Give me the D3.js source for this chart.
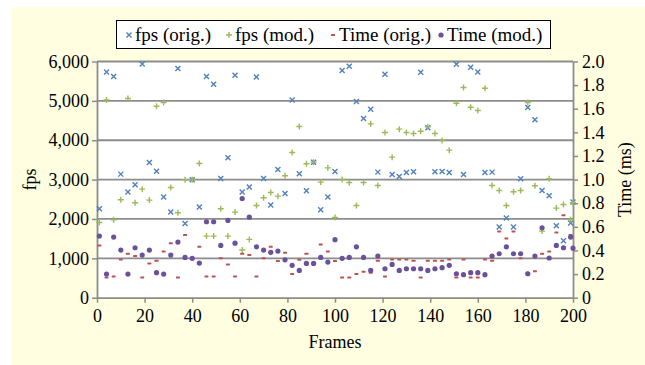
<!DOCTYPE html>
<html>
<head>
<meta charset="utf-8">
<script src="https://cdn.jsdelivr.net/npm/d3@7"></script>
<style>
  html, body { margin: 0; padding: 0; background: #ffffff; }
  svg text { font-family: "Liberation Serif", "Times New Roman", serif; fill: #000; }
</style>
</head>
<body>
<svg id="chart" width="645" height="365"></svg>
<script>
// Sampled frames (every third frame, plus the last one)
const frames = [1,4,7,10,13,16,19,22,25,28,31,34,37,40,43,46,49,52,55,58,61,64,67,70,73,76,79,82,85,88,91,94,97,100,103,106,109,112,115,118,121,124,127,130,133,136,139,142,145,148,151,154,157,160,163,166,169,172,175,178,181,184,187,190,193,196,199,200];

// Frame rate, original and modified renderer
const fpsOrig = [2259,5736,5618,3139,2682,2868,5939,3435,3215,2555,2174,5821,1887,2995,2301,5618,5423,3029,3553,5651,2682,2809,5609,3029,2352,3257,2648,5025,3147,2716,3443,2233,2555,3206,5770,5880,4983,4552,4788,3190,5677,3130,3080,3181,3198,5728,4315,3198,3206,3181,5931,3130,5854,5736,3181,3190,1794,2022,1794,3020,4831,4518,2724,2589,1827,1447,1895,2428];
const fpsMod = [1912,5025,1980,2487,5059,2411,2758,2479,4865,4958,2800,2157,2995,2995,3409,1565,1565,2259,1565,2174,1210,1481,2343,2538,2673,2580,3096,3689,4349,3401,3443,2936,3299,2039,3003,2927,2343,2927,4416,2851,4196,3570,4281,4196,4171,4230,4340,4171,3993,3748,4941,5338,4839,4755,5321,2851,2724,2343,2690,2724,4958,2843,1692,3020,2276,2369,1988,2411];

// Frame time in ms, original and modified renderer
const timeOrig = [0.443,0.172,0.180,0.324,0.372,0.353,0.172,0.290,0.313,0.392,0.460,0.172,0.530,0.333,0.431,0.180,0.180,0.333,0.282,0.180,0.372,0.361,0.180,0.333,0.431,0.310,0.381,0.200,0.321,0.372,0.290,0.451,0.392,0.310,0.172,0.172,0.200,0.220,0.212,0.313,0.180,0.324,0.324,0.324,0.313,0.172,0.313,0.313,0.313,0.324,0.172,0.324,0.172,0.172,0.324,0.313,0.561,0.502,0.561,0.333,0.212,0.223,0.372,0.392,0.553,0.699,0.530,0.409];
const timeMod = [0.522,0.200,0.513,0.403,0.200,0.423,0.361,0.403,0.212,0.200,0.361,0.471,0.341,0.333,0.293,0.643,0.643,0.443,0.654,0.462,0.840,0.682,0.431,0.403,0.384,0.395,0.321,0.274,0.231,0.290,0.290,0.341,0.302,0.491,0.333,0.341,0.431,0.341,0.231,0.353,0.245,0.282,0.231,0.245,0.245,0.245,0.231,0.245,0.254,0.274,0.203,0.195,0.212,0.212,0.195,0.353,0.372,0.431,0.372,0.372,0.203,0.353,0.592,0.336,0.443,0.423,0.513,0.420];

// Axis ticks
const frameTicks = [0,20,40,60,80,100,120,140,160,180,200];
const fpsTicks = [0,1000,2000,3000,4000,5000,6000];
const timeTicks = [0,0.2,0.4,0.6,0.8,1.0,1.2,1.4,1.6,1.8,2.0];

const legendLabels = ["fps (orig.)", "fps (mod.)", "Time (orig.)", "Time (mod.)"];
const colors = ["#4F81BD", "#9BBB59", "#C0504D", "#6A529A"];

const svg = d3.select("#chart");

// Panel background
svg.append("rect").attr("x", 12).attr("y", 7).attr("width", 633).attr("height", 358)
  .attr("fill", "#FFFEE0");

const plotLeft = 97, plotRight = 573, plotTop = 61.5, plotBottom = 297.7;
const x = d3.scaleLinear().domain([0, 200]).range([plotLeft, plotRight]);
const yFps = d3.scaleLinear().domain([0, 6000]).range([plotBottom, plotTop]);
const yTime = d3.scaleLinear().domain([0, 2]).range([plotBottom, plotTop]);

// Plot area
svg.append("rect").attr("x", plotLeft).attr("y", plotTop)
  .attr("width", plotRight - plotLeft).attr("height", plotBottom - plotTop)
  .attr("fill", "#ffffff");

const gridColor = "#8c8c8c";

// Horizontal gridlines on the fps scale
svg.append("g").selectAll("line").data(fpsTicks.filter(d => d > 0)).join("line")
  .attr("x1", plotLeft).attr("x2", plotRight)
  .attr("y1", d => yFps(d)).attr("y2", d => yFps(d))
  .attr("stroke", gridColor).attr("stroke-width", 1.8);

function styleAxis(g) {
  g.select(".domain").attr("stroke", gridColor).attr("stroke-width", 1.8);
  g.selectAll(".tick line").attr("stroke", gridColor).attr("stroke-width", 1.5);
  g.selectAll(".tick text").style("font-family", '"Liberation Serif", serif').style("font-size", "18px").attr("fill", "#000");
}

svg.append("g").attr("transform", `translate(${plotLeft},0)`)
  .call(d3.axisLeft(yFps).tickValues(fpsTicks).tickFormat(d3.format(",")).tickSize(5).tickSizeOuter(0).tickPadding(3))
  .call(styleAxis);

svg.append("g").attr("transform", `translate(${plotRight},0)`)
  .call(d3.axisRight(yTime).tickValues(timeTicks).tickFormat(d => d === 0 ? "0" : d3.format(".1f")(d)).tickSize(5).tickSizeOuter(0).tickPadding(4))
  .call(styleAxis);

svg.append("g").attr("transform", `translate(0,${plotBottom})`)
  .call(d3.axisBottom(x).tickValues(frameTicks).tickFormat(d3.format("d")).tickSize(5).tickSizeOuter(0).tickPadding(7))
  .call(styleAxis);

// Axis titles
svg.append("text").attr("transform", `translate(36,${(plotTop + plotBottom) / 2}) rotate(-90)`)
  .attr("text-anchor", "middle").style("font-size", "18px").text("fps");
svg.append("text").attr("transform", `translate(631,${(plotTop + plotBottom) / 2}) rotate(-90)`)
  .attr("text-anchor", "middle").style("font-size", "18px").text("Time (ms)");
svg.append("text").attr("x", (plotLeft + plotRight) / 2).attr("y", 348)
  .attr("text-anchor", "middle").style("font-size", "18px").text("Frames");

// Marker shapes
const markers = [
  g => g.append("path").attr("d", "M-2.5,-2.5L2.5,2.5M-2.5,2.5L2.5,-2.5").attr("stroke", colors[0]).attr("stroke-width", 1.4).attr("fill", "none"),
  g => g.append("path").attr("d", "M-3,0H3M0,-3V3").attr("stroke", colors[1]).attr("stroke-width", 1.4).attr("fill", "none"),
  g => g.append("rect").attr("x", -2).attr("y", -1).attr("width", 4).attr("height", 2).attr("rx", 0.6).attr("fill", colors[2]),
  g => g.append("circle").attr("r", 2.6).attr("fill", colors[3])
];

const series = [
  { values: fpsOrig, y: yFps },
  { values: fpsMod, y: yFps },
  { values: timeOrig, y: yTime },
  { values: timeMod, y: yTime }
];

series.forEach((s, k) => {
  svg.append("g").selectAll("g").data(frames.map((f, i) => [f, s.values[i]])).join("g")
    .attr("transform", d => `translate(${x(d[0])},${s.y(d[1])})`)
    .each(function () { markers[k](d3.select(this)); });
});

// Legend
const legend = svg.append("g");
legend.append("rect").attr("x", 116.5).attr("y", 20.5).attr("width", 434).attr("height", 28)
  .attr("fill", "#ffffff").attr("stroke", "#000").attr("stroke-width", 1);
const legendX = [129, 229, 333, 441];
legendLabels.forEach((lab, k) => {
  const g = legend.append("g").attr("transform", `translate(${legendX[k]},35)`);
  markers[k](g);
  legend.append("text").attr("x", legendX[k] + 6).attr("y", 41).style("font-size", "19px").text(lab);
});
</script>
</body>
</html>
